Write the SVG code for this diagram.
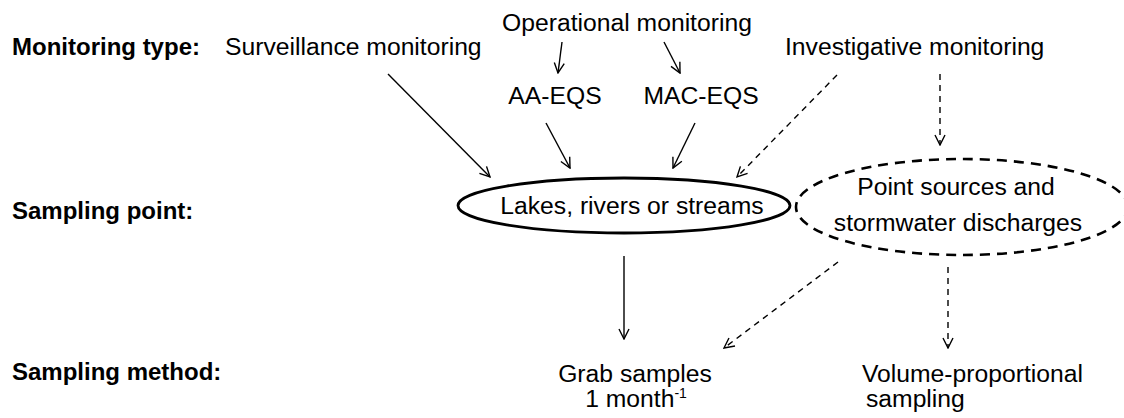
<svg xmlns="http://www.w3.org/2000/svg" width="1124" height="418" viewBox="0 0 1124 418">
<style>
text{font-family:"Liberation Sans",Arial,sans-serif;font-size:24.7px;fill:#000}
.lbl{font-weight:bold;font-size:24px}
.c{text-anchor:middle}
.ln{fill:none;stroke:#000;stroke-width:1.4}
.dash{stroke-dasharray:6 5}
</style>
<defs>
<marker id="ah" viewBox="0 0 12 12" refX="11" refY="6" markerWidth="12" markerHeight="12" markerUnits="userSpaceOnUse" orient="auto">
<path d="M1,1 L11,6 L1,11" fill="none" stroke="#000" stroke-width="1.4"/>
</marker>
</defs>
<rect width="1124" height="418" fill="#fff"/>
<g id="labels">
<text class="lbl" x="12" y="55">Monitoring type:</text>
<text class="lbl" x="12" y="219">Sampling point:</text>
<text class="lbl" x="12" y="380">Sampling method:</text>
</g>
<g id="surveillance"><text x="225" y="55">Surveillance monitoring</text></g>
<g id="operational"><text class="c" x="627" y="31">Operational monitoring</text></g>
<g id="investigative"><text x="785" y="55">Investigative monitoring</text></g>
<g id="aa-eqs"><text class="c" x="555" y="104">AA-EQS</text></g>
<g id="mac-eqs"><text class="c" x="701" y="104">MAC-EQS</text></g>
<g id="lakes">
<ellipse cx="624" cy="205.5" rx="166" ry="27.5" fill="none" stroke="#000" stroke-width="2.8"/>
<text class="c" x="632" y="214">Lakes, rivers or streams</text>
</g>
<g id="point-sources">
<ellipse cx="962" cy="207" rx="166" ry="48" fill="none" stroke="#000" stroke-width="2.6" stroke-dasharray="10 7"/>
<text class="c" x="956" y="195">Point sources and</text>
<text class="c" x="958" y="231">stormwater discharges</text>
</g>
<g id="grab">
<text class="c" x="635" y="382">Grab samples</text>
<text class="c" x="636" y="407">1 month<tspan font-size="14" dy="-9">-1</tspan></text>
</g>
<g id="volume">
<text x="862" y="382">Volume-proportional</text>
<text x="866" y="407">sampling</text>
</g>
<g id="connectors">
<line class="ln" x1="388" y1="74" x2="490" y2="177" marker-end="url(#ah)"/>
<line class="ln" x1="562" y1="42" x2="558" y2="73" marker-end="url(#ah)"/>
<line class="ln" x1="664" y1="42" x2="680" y2="73" marker-end="url(#ah)"/>
<line class="ln" x1="546" y1="123" x2="570" y2="168" marker-end="url(#ah)"/>
<line class="ln" x1="695" y1="123" x2="673" y2="168" marker-end="url(#ah)"/>
<line class="ln dash" x1="837" y1="75" x2="737" y2="177" marker-end="url(#ah)"/>
<line class="ln dash" x1="940" y1="74" x2="940" y2="145" marker-end="url(#ah)"/>
<line class="ln" x1="624" y1="256" x2="624" y2="339" marker-end="url(#ah)"/>
<line class="ln dash" x1="838" y1="262" x2="724" y2="348" marker-end="url(#ah)"/>
<line class="ln dash" x1="948" y1="267" x2="948" y2="348" marker-end="url(#ah)"/>
</g>
</svg>
